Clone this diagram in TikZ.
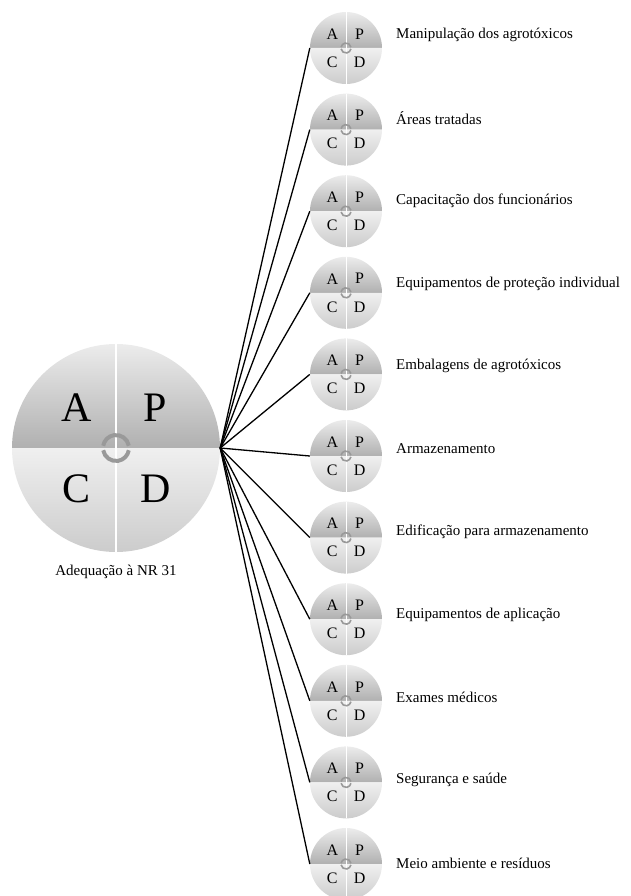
\documentclass[tikz,border=0pt]{standalone}
\usepackage{fontspec}
\setmainfont{Liberation Serif}
\usetikzlibrary{positioning}
\tikzset{
    item/.style = {
        anchor=west,
        inner sep=0pt,
        font=\fontsize{15}{18}\selectfont
    },
    caption/.style = {
        inner sep=0pt,
        font=\fontsize{15}{18}\selectfont
    },
    link/.style = {
        draw,
        line width=1.3pt
    },
    % #1 radius, #2 letter size, #3 ring radius, #4 ring width
    pics/pdca/.style n args={4}{
        code={
            \shade[top color=gray!15, bottom color=gray!62]
                (180:#1) arc[start angle=180, end angle=0, radius=#1] -- cycle;
            \shade[top color=gray!12, bottom color=gray!40]
                (180:#1) arc[start angle=180, end angle=360, radius=#1] -- cycle;
            \draw[white, line width=0.015*#1] (0,#1) -- (0,0);
            \draw[white, line width=0.025*#1] (0,0) -- (0,-#1);
            \draw[gray!80, line width=#4] (10:#3) arc[start angle=10, end angle=170, radius=#3];
            \draw[gray!80, line width=#4] (190:#3) arc[start angle=190, end angle=350, radius=#3];
            \node[circle, minimum size=2*#1, inner sep=0pt] (-disc) at (0,0) {};
            \node[font=\fontsize{#2}{#2}\selectfont] (-a) at (-0.38*#1, 0.39*#1) {A};
            \node[font=\fontsize{#2}{#2}\selectfont] (-p) at (0.38*#1, 0.39*#1) {P};
            \node[font=\fontsize{#2}{#2}\selectfont] (-c) at (-0.38*#1, -0.39*#1) {C};
            \node[font=\fontsize{#2}{#2}\selectfont] (-d) at (0.38*#1, -0.39*#1) {D};
        }
    },
}

\begin{document}
\begin{tikzpicture}[x=1pt, y=1pt]
    \useasboundingbox (0,0) rectangle (630,-896);

    \pic (big) at (116,-448) {pdca={104}{42}{13}{4}};
    \node[caption] (title) at (116,-572) {Adequação à NR 31};

    \pic (s1) at (346,-48) {pdca={36}{16}{5}{1.6}};
    \pic (s2) at (346,-129.6) {pdca={36}{16}{5}{1.6}};
    \pic (s3) at (346,-211.2) {pdca={36}{16}{5}{1.6}};
    \pic (s4) at (346,-292.8) {pdca={36}{16}{5}{1.6}};
    \pic (s5) at (346,-374.4) {pdca={36}{16}{5}{1.6}};
    \pic (s6) at (346,-456) {pdca={36}{16}{5}{1.6}};
    \pic (s7) at (346,-537.6) {pdca={36}{16}{5}{1.6}};
    \pic (s8) at (346,-619.2) {pdca={36}{16}{5}{1.6}};
    \pic (s9) at (346,-700.8) {pdca={36}{16}{5}{1.6}};
    \pic (s10) at (346,-782.4) {pdca={36}{16}{5}{1.6}};
    \pic (s11) at (346,-864) {pdca={36}{16}{5}{1.6}};

    \node[item] (t1) at (396,-35) {Manipulação dos agrotóxicos};
    \node[item] (t2) at (396,-117.8) {Áreas tratadas};
    \node[item] (t3) at (396,-200.6) {Capacitação dos funcionários};
    \node[item] (t4) at (396,-283.4) {Equipamentos de proteção individual};
    \node[item] (t5) at (396,-366.2) {Embalagens de agrotóxicos};
    \node[item] (t6) at (396,-449) {Armazenamento};
    \node[item] (t7) at (396,-531.8) {Edificação para armazenamento};
    \node[item] (t8) at (396,-614.6) {Equipamentos de aplicação};
    \node[item] (t9) at (396,-697.4) {Exames médicos};
    \node[item] (t10) at (396,-780.2) {Segurança e saúde};
    \node[item] (t11) at (396,-863) {Meio ambiente e resíduos};

    \path[link] (big-disc.east) -- (s1-disc.west);
    \path[link] (big-disc.east) -- (s2-disc.west);
    \path[link] (big-disc.east) -- (s3-disc.west);
    \path[link] (big-disc.east) -- (s4-disc.west);
    \path[link] (big-disc.east) -- (s5-disc.west);
    \path[link] (big-disc.east) -- (s6-disc.west);
    \path[link] (big-disc.east) -- (s7-disc.west);
    \path[link] (big-disc.east) -- (s8-disc.west);
    \path[link] (big-disc.east) -- (s9-disc.west);
    \path[link] (big-disc.east) -- (s10-disc.west);
    \path[link] (big-disc.east) -- (s11-disc.west);
\end{tikzpicture}
\end{document}
